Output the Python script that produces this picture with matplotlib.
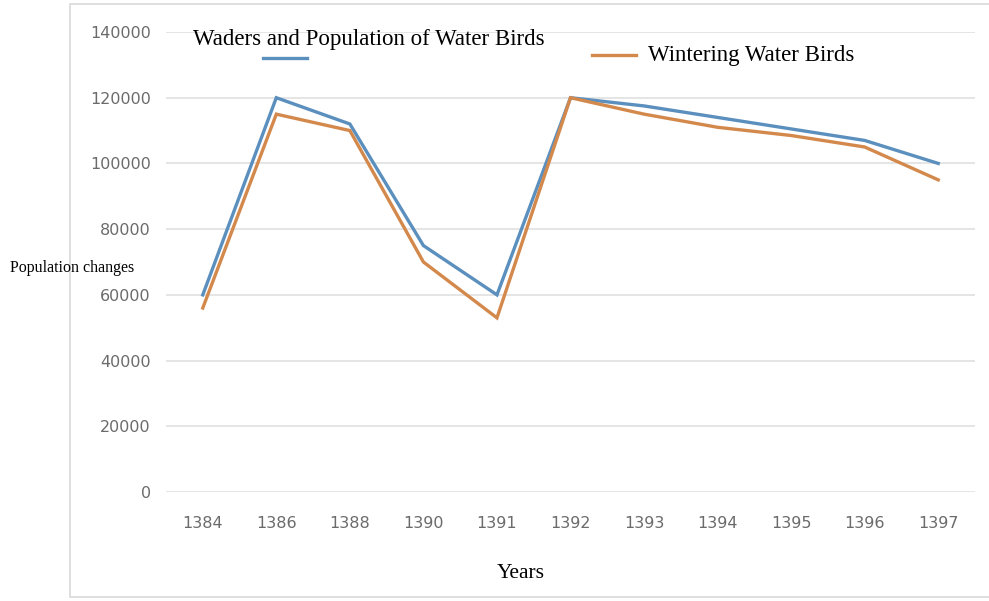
import matplotlib.pyplot as plt
from matplotlib.patches import Rectangle
from matplotlib.lines import Line2D

years = ['1384', '1386', '1388', '1390', '1391', '1392', '1393', '1394', '1395', '1396', '1397']
waders = [60000, 120000, 112000, 75000, 60000, 120000, 117500, 114000, 110500, 107000, 100000]
wintering = [56000, 115000, 110000, 70000, 53000, 120000, 115000, 111000, 108500, 105000, 95000]
yticks = [0, 20000, 40000, 60000, 80000, 100000, 120000, 140000]

blue = '#5b8fbd'
orange = '#d4894c'
serif = 'Liberation Serif'

fig = plt.figure(figsize=(9.89, 6.01), dpi=100)
# light frame around the chart area
fig.patches.append(Rectangle((70 / 989, 4 / 601), 920 / 989, 593 / 601,
                             transform=fig.transFigure, fill=False,
                             edgecolor='#d9d9d9', lw=1.2))

ax = fig.add_axes([166 / 989, 109 / 601, 809 / 989, 460 / 601])
x = list(range(len(years)))
ax.plot(x, waders, color=blue, lw=2.4, solid_joinstyle='miter', zorder=3)
ax.plot(x, wintering, color=orange, lw=2.4, solid_joinstyle='miter', zorder=3)

ax.set_xlim(-0.5, len(years) - 0.5)
ax.set_ylim(0, 140000)
ax.set_yticks(yticks)
ax.set_yticklabels([str(v) for v in yticks])
ax.set_xticks(x)
ax.set_xticklabels(years)
ax.grid(axis='y', color='#e0e0e0', lw=1.2)
ax.set_axisbelow(True)
for s in ax.spines.values():
    s.set_visible(False)
ax.tick_params(length=0, labelsize=11.5, labelcolor='#6b6b6b')
ax.tick_params(axis='x', pad=17)
ax.tick_params(axis='y', pad=11)
for lab in ax.get_xticklabels() + ax.get_yticklabels():
    lab.set_family('Liberation Sans Narrow')

# legend entries drawn by hand
fig.text(193 / 989, 1 - 40 / 601, 'Waders and Population of Water Birds',
         family=serif, fontsize=16.5, va='center', ha='left')
fig.lines.append(Line2D([263 / 989, 307 / 989], [1 - 58 / 601, 1 - 58 / 601],
                        transform=fig.transFigure, color=blue, lw=2.4))
fig.lines.append(Line2D([592 / 989, 636 / 989], [1 - 55 / 601, 1 - 55 / 601],
                        transform=fig.transFigure, color=orange, lw=2.4))
fig.text(648 / 989, 1 - 55 / 601, 'Wintering Water Birds',
         family=serif, fontsize=16.5, va='center', ha='left')

fig.text(10 / 989, 1 - 268 / 601, 'Population changes', family=serif,
         fontsize=11.5, va='center', ha='left')
fig.text(521 / 989, 1 - 574 / 601, 'Years', family=serif,
         fontsize=15.5, va='center', ha='center')

plt.savefig('out.png', dpi=100)
